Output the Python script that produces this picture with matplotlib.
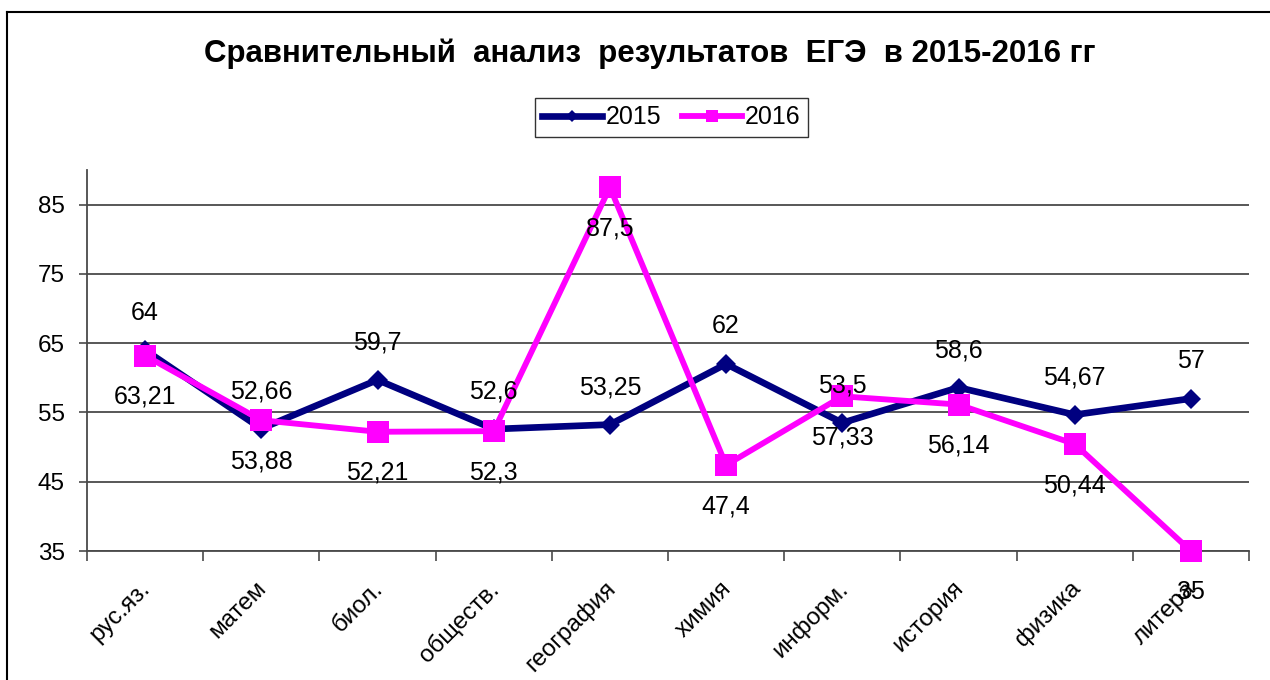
import matplotlib
matplotlib.use("Agg")
import matplotlib.pyplot as plt
from matplotlib.lines import Line2D
import numpy as np

plt.rcParams['font.family'] = ['Liberation Sans', 'DejaVu Sans']

categories = ["рус.яз.", "матем", "биол.", "обществ.", "география",
              "химия", "информ.", "история", "физика", "литера"]
vals_2015 = [64, 52.66, 59.7, 52.6, 53.25, 62, 53.5, 58.6, 54.67, 57]
vals_2016 = [63.21, 53.88, 52.21, 52.3, 87.5, 47.4, 57.33, 56.14, 50.44, 35]
series_names = ["2015", "2016"]
title = "Сравнительный  анализ  результатов  ЕГЭ  в 2015-2016 гг"
yticks = [35, 45, 55, 65, 75, 85]

W, H = 1270, 680
fig = plt.figure(figsize=(W / 100, H / 100), dpi=100)
ax = fig.add_axes([87 / W, 1 - 551 / H, (1249 - 87) / W, (551 - 170) / H])

x = np.arange(len(categories))
grid_c = "#4a4a4a"

ax.set_xlim(-0.5, len(categories) - 0.5)
ax.set_ylim(35, 90)
ax.set_yticks(yticks)
ax.set_yticklabels([str(v) for v in yticks], fontsize=17.5)
for v in yticks:
    ax.axhline(v, color=grid_c, lw=1.3, zorder=1)

ax.set_xticks(x - 0.05)
ax.set_xticklabels(categories, fontsize=17.5, rotation=45, ha='right',
                   rotation_mode='anchor')
ax.set_xticks(np.arange(-0.5, len(categories), 1.0), minor=True)
ax.tick_params(axis='x', which='major', length=0, pad=19)
ax.tick_params(axis='x', which='minor', length=7, width=1.2, color=grid_c)
ax.tick_params(axis='y', length=6, width=1.2, color=grid_c, pad=10)

for s in ['top', 'right']:
    ax.spines[s].set_visible(False)
for s in ['left', 'bottom']:
    ax.spines[s].set_color(grid_c)
    ax.spines[s].set_linewidth(1.3)

l1, = ax.plot(x, vals_2015, color="#000080", lw=4.8, marker='D',
              markersize=10.5, markeredgewidth=0, zorder=3, label=series_names[0],
              clip_on=False)
l2, = ax.plot(x, vals_2016, color="#FF00FF", lw=4.2, marker='s',
              markersize=16.5, markeredgewidth=0, zorder=4, label=series_names[1],
              clip_on=False)

def fmt(v):
    s = ("%g" % v).replace(".", ",")
    return s

for xi, v in zip(x, vals_2015):
    ax.annotate(fmt(v), (xi, v), xytext=(0, 27), textcoords='offset points',
                ha='center', va='center', fontsize=18, zorder=6)
for xi, v in zip(x, vals_2016):
    ax.annotate(fmt(v), (xi, v), xytext=(0, -29.5), textcoords='offset points',
                ha='center', va='center', fontsize=18, zorder=6,
                annotation_clip=False)

fig.text(650 / W, 1 - 54 / H, title, ha='center', va='center',
         fontsize=22.5, fontweight='bold')

h1 = Line2D([], [], color="#000080", lw=4.8, marker='D', markersize=6,
            markeredgewidth=0)
h2 = Line2D([], [], color="#FF00FF", lw=4.2, marker='s', markersize=9,
            markeredgewidth=0)
leg = fig.legend([h1, h2], series_names, loc='center',
                 bbox_to_anchor=(671.5 / W, 1 - 117.5 / H),
                 ncol=2, fontsize=18, frameon=True, fancybox=False,
                 edgecolor='black', handlelength=2.4, handletextpad=0.15,
                 columnspacing=0.8, borderpad=0.3)
leg.get_frame().set_linewidth(1.0)

# outer chart frame
fig.add_artist(Line2D([7 / W, 7 / W], [0, 1 - 12 / H], color='black', lw=1.5,
                      transform=fig.transFigure))
fig.add_artist(Line2D([7 / W, 1], [1 - 12 / H, 1 - 12 / H], color='black', lw=1.5,
                      transform=fig.transFigure))

fig.savefig("out.png", dpi=100, facecolor='white')
